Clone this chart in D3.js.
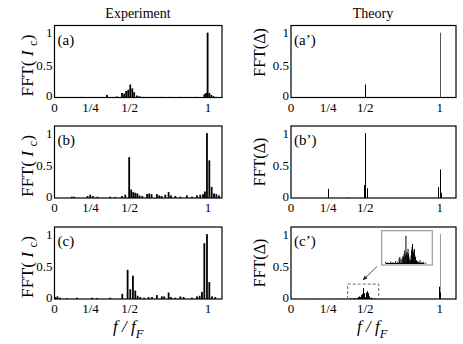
<!DOCTYPE html>
<html>
<head>
<meta charset="utf-8">
<script src="https://cdn.jsdelivr.net/npm/d3@7"></script>
<style>
  body { margin: 0; background: #fff; }
  svg text { font-family: "Liberation Serif", "Times New Roman", Times, serif; fill: #000; }
</style>
</head>
<body>
<div id="chart"></div>
<script>
// measured spectra, f in units of f_F
const expAFreq = [0.195, 0.355, 0.419, 0.451, 0.465, 0.478, 0.491, 0.504, 0.517, 0.529, 0.547, 0.563, 0.589, 0.696, 0.76, 0.824, 0.919, 0.977, 0.988, 0.998, 1.009, 1.022, 1.036];
const expAAmp  = [0.01, 0.04, 0.015, 0.07, 0.06, 0.1, 0.12, 0.2, 0.14, 0.08, 0.03, 0.02, 0.01, 0.01, 0.01, 0.01, 0.01, 0.05, 0.07, 1.0, 0.07, 0.04, 0.02];

const expBFreq = [0.131, 0.146, 0.231, 0.248, 0.265, 0.295, 0.376, 0.408, 0.451, 0.472, 0.497, 0.51, 0.523, 0.536, 0.549, 0.563, 0.581, 0.611, 0.625, 0.64, 0.674, 0.689, 0.704, 0.728, 0.749, 0.764, 0.792, 0.824, 0.866, 0.898, 0.93, 0.951, 0.969, 0.981, 0.994, 1.009, 1.024, 1.039, 1.054, 1.071];
const expBAmp  = [0.02, 0.02, 0.03, 0.05, 0.03, 0.02, 0.02, 0.015, 0.03, 0.05, 0.63, 0.13, 0.09, 0.08, 0.07, 0.04, 0.03, 0.06, 0.07, 0.06, 0.06, 0.04, 0.03, 0.05, 0.09, 0.04, 0.03, 0.02, 0.04, 0.02, 0.04, 0.05, 0.06, 0.1, 1.0, 0.58, 0.17, 0.07, 0.06, 0.04];

const expCFreq = [0.026, 0.039, 0.056, 0.099, 0.163, 0.259, 0.291, 0.376, 0.453, 0.487, 0.504, 0.521, 0.536, 0.551, 0.568, 0.593, 0.621, 0.643, 0.674, 0.706, 0.721, 0.749, 0.764, 0.792, 0.824, 0.845, 0.898, 0.93, 0.947, 0.962, 0.977, 0.994, 1.009, 1.026, 1.047];
const expCAmp  = [0.03, 0.04, 0.02, 0.01, 0.02, 0.02, 0.015, 0.02, 0.08, 0.45, 0.15, 0.36, 0.13, 0.05, 0.03, 0.02, 0.03, 0.03, 0.06, 0.04, 0.04, 0.1, 0.03, 0.02, 0.04, 0.03, 0.02, 0.04, 0.05, 0.11, 0.86, 1.0, 0.26, 0.04, 0.03];

// calculated spectra
const thAFreq = [0.5, 1.0];
const thAAmp  = [0.2, 1.0];

const thBFreq = [0.25, 0.377, 0.49, 0.5, 0.51, 0.99, 1.0, 1.01];
const thBAmp  = [0.14, 0.01, 0.2, 1.0, 0.15, 0.17, 0.44, 0.08];

const thCFreq = [0.12, 0.15, 0.18, 0.29, 0.31, 0.34,
  0.395, 0.405, 0.416, 0.426, 0.437, 0.446, 0.452, 0.455, 0.46, 0.465, 0.468, 0.47, 0.473, 0.476, 0.478, 0.481, 0.484, 0.486, 0.488, 0.49, 0.492, 0.494, 0.497, 0.5,
  0.503, 0.505, 0.507, 0.509, 0.511, 0.513, 0.515, 0.517, 0.519, 0.522, 0.526, 0.531, 0.536, 0.541, 0.548, 0.555, 0.565,
  0.995, 1.0, 1.005];
const thCAmp  = [0.005, 0.008, 0.005, 0.006, 0.008, 0.006,
  0.01, 0.006, 0.012, 0.008, 0.015, 0.01, 0.03, 0.04, 0.025, 0.03, 0.045, 0.04, 0.06, 0.08, 0.05, 0.17, 0.06, 0.07, 0.05, 0.09, 0.06, 0.04, 0.025, 0.02,
  0.05, 0.08, 0.1, 0.12, 0.07, 0.06, 0.08, 0.09, 0.05, 0.04, 0.02, 0.015, 0.01, 0.02, 0.008, 0.01, 0.006,
  0.19, 1.0, 0.1];

const xTicks = [0, 0.25, 0.5, 1];
const xTickLabels = ["0", "1/4", "1/2", "1"];
const yTicks = [0, 0.5, 1];
const yTickLabels = ["0", "0.5", "1"];
const expLabels = ["(a)", "(b)", "(c)"];
const thLabels = ["(a\u2019)", "(b\u2019)", "(c\u2019)"];
const zoomRange = [0.381, 0.59];

const width = 463, height = 344;
const rowTops = [25.5, 126, 227];
const panelH = 72;
const expX = [54.5, 222], thX = [291, 456];

const svg = d3.select("#chart").append("svg")
  .attr("width", width).attr("height", height);

const zip = (f, a) => f.map((d, i) => ({ f: d, v: a[i] }));

const xExp = d3.scaleLinear().domain([0.02, 1.09]).range(expX);
const xTh = d3.scaleLinear().domain([0, 1.11]).range(thX);

function frameAndAxes(g, x, y, label, yLabel, labelShift) {
  const [x0, x1] = x.range();
  const [yb, yt] = y.range();

  g.selectAll(".ytick").data(yTicks).enter().append("text")
    .attr("x", x0 - 2)
    .attr("y", (d) => y(d) - (d === 0 ? 2 : 0))
    .attr("dy", "0.35em")
    .attr("text-anchor", "end")
    .style("font-size", "13px")
    .text((d, i) => yTickLabels[i]);

  g.selectAll(".xtick").data(xTicks).enter().append("text")
    .attr("x", (d) => Math.max(x(d), x0))
    .attr("y", yb + 14)
    .attr("text-anchor", "middle")
    .style("font-size", "13px")
    .text((d, i) => xTickLabels[i]);

  g.append("text")
    .attr("x", x0 + 3).attr("y", yt + 19)
    .style("font-size", "15px")
    .text(label);

  const yl = g.append("text")
    .attr("text-anchor", "middle")
    .attr("transform", `translate(${yLabel.x},${(yb + yt) / 2 + labelShift}) rotate(-90)`)
    .style("font-size", yLabel.size + "px");
  yLabel.build(yl);
}

function frame(g, x, y) {
  const [x0, x1] = x.range();
  const [yb, yt] = y.range();
  g.append("rect")
    .attr("x", x0).attr("y", yt)
    .attr("width", x1 - x0).attr("height", yb - yt)
    .attr("fill", "none").attr("stroke", "#000").attr("stroke-width", 1.2);
}

const expYLabel = {
  x: 33, size: 17.5,
  build: (t) => {
    t.append("tspan").text("FFT( ");
    t.append("tspan").style("font-style", "italic").text("I");
    t.append("tspan").text(" ");
    t.append("tspan").attr("dy", 4).style("font-size", "12.5px").text("c");
    t.append("tspan").attr("dy", -4).text(")");
  }
};
const thYLabel = {
  x: 265, size: 16,
  build: (t) => t.text("FFT(\u0394)")
};

const expData = [zip(expAFreq, expAAmp), zip(expBFreq, expBAmp), zip(expCFreq, expCAmp)];
const thData = [zip(thAFreq, thAAmp), zip(thBFreq, thBAmp), zip(thCFreq, thCAmp)];
const peakColors = ["#555", "#000", "#999"];

rowTops.forEach((top, r) => {
  const y = d3.scaleLinear().domain([0, 1.11]).range([top + panelH, top]);

  // experiment panel: bars
  const ge = svg.append("g");
  ge.selectAll("rect.bar").data(expData[r]).enter().append("rect")
    .attr("class", "bar")
    .attr("x", (d) => xExp(d.f) - 0.9)
    .attr("width", 1.8)
    .attr("y", (d) => y(d.v))
    .attr("height", (d) => y(0) - y(d.v))
    .attr("fill", "#000");
  frame(ge, xExp, y);
  frameAndAxes(ge, xExp, y, expLabels[r], expYLabel, 4);

  // theory panel: thin spectral lines
  const gt = svg.append("g");
  const sorted = thData[r].slice().sort((a, b) => b.v - a.v);
  gt.selectAll("line.spec").data(sorted).enter().append("line")
    .attr("class", "spec")
    .attr("x1", (d) => Math.round(xTh(d.f)) + 0.5)
    .attr("x2", (d) => Math.round(xTh(d.f)) + 0.5)
    .attr("y1", y(0))
    .attr("y2", (d) => y(d.v))
    .attr("stroke", (d) => d.v > 0.9 ? peakColors[r] : "#000")
    .attr("stroke-width", 1);
  frame(gt, xTh, y);
  frameAndAxes(gt, xTh, y, thLabels[r], thYLabel, r === 0 ? -9 : 0);

  if (r === 2) {
    // dashed zoom region
    gt.append("path")
      .attr("d", `M${xTh(zoomRange[0])},${y(0)}V${y(0.23)}H${xTh(zoomRange[1])}V${y(0)}`)
      .attr("fill", "none").attr("stroke", "#555")
      .attr("stroke-width", 0.9).attr("stroke-dasharray", "3,2");

    // inset
    const ix = d3.scaleLinear().domain(zoomRange).range([382.5, 431.5]);
    const iy = d3.scaleLinear().domain([0, 0.19]).range([263.5, 232.5]);
    gt.append("rect")
      .attr("x", 381.7).attr("y", 230.7).attr("width", 50.6).attr("height", 34.3)
      .attr("fill", "#fff").attr("stroke", "#999").attr("stroke-width", 1.2);
    gt.append("line")
      .attr("x1", ix(0.395)).attr("x2", ix(0.56))
      .attr("y1", iy(0)).attr("y2", iy(0))
      .attr("stroke", "#000").attr("stroke-width", 1);
    gt.selectAll("line.ins")
      .data(sorted.filter((d) => d.f > zoomRange[0] && d.f < zoomRange[1]))
      .enter().append("line")
      .attr("class", "ins")
      .attr("x1", (d) => ix(d.f)).attr("x2", (d) => ix(d.f))
      .attr("y1", iy(0)).attr("y2", (d) => iy(d.v))
      .attr("stroke", "#000").attr("stroke-width", 1);

    // arrow
    svg.append("defs").append("marker")
      .attr("id", "arr").attr("viewBox", "0 0 10 10")
      .attr("refX", 9).attr("refY", 5)
      .attr("markerWidth", 6).attr("markerHeight", 6)
      .attr("orient", "auto")
      .append("path").attr("d", "M0,1L10,5L0,9Z").attr("fill", "#222");
    gt.append("line")
      .attr("x1", 377).attr("y1", 266.5)
      .attr("x2", 363).attr("y2", 280)
      .attr("stroke", "#222").attr("stroke-width", 0.8)
      .attr("marker-end", "url(#arr)");
  }
});

// column titles
svg.append("text").attr("x", 138).attr("y", 18).attr("text-anchor", "middle")
  .style("font-size", "14px").text("Experiment");
svg.append("text").attr("x", 373).attr("y", 18).attr("text-anchor", "middle")
  .style("font-size", "14px").text("Theory");

// x axis labels under bottom row
[113, 357].forEach((x0) => {
  const t = svg.append("text").attr("x", x0).attr("y", 332)
    .style("font-size", "17px").style("font-style", "italic");
  t.append("tspan").text("f / f");
  t.append("tspan").attr("dy", 6).style("font-size", "12.5px").text("F");
});
</script>
</body>
</html>
